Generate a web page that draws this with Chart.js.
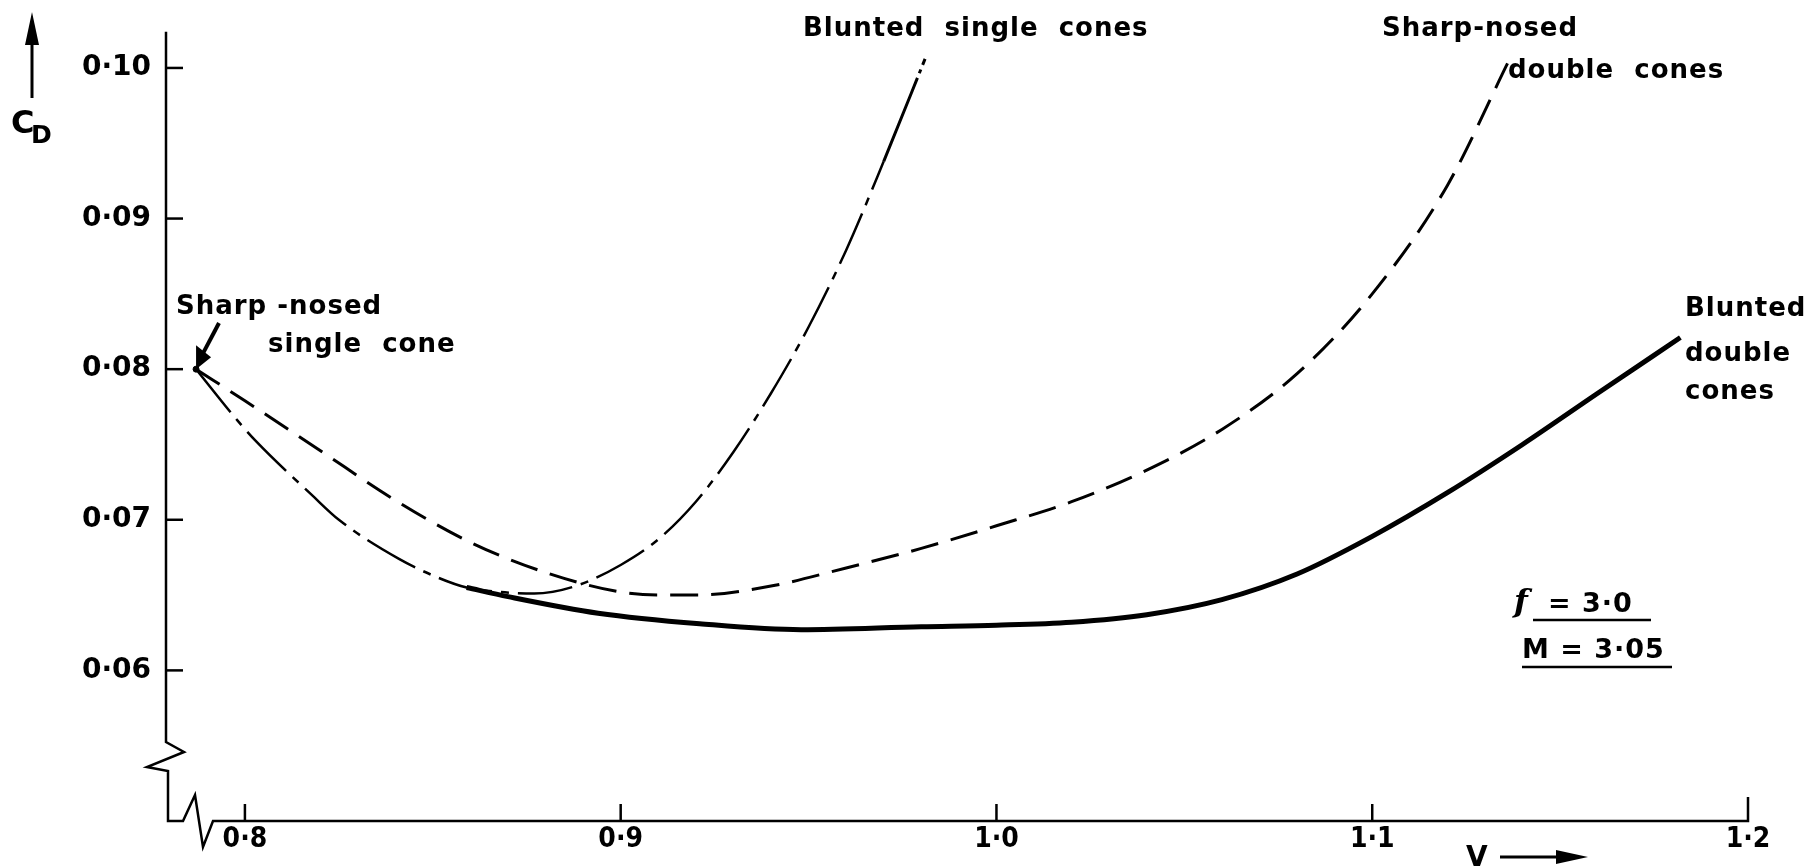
<!DOCTYPE html>
<html><head><meta charset="utf-8">
<script src="https://cdn.jsdelivr.net/npm/chart.js@4/dist/chart.umd.min.js"></script>
<style>html,body{margin:0;padding:0;background:#fff}#wrap{width:1811px;height:868px;position:relative}</style>
</head><body><div id="wrap"><canvas id="c" width="1811" height="868"></canvas></div>
<script>
// ---- data ----
const xTicks = [0.8, 0.9, 1.0, 1.1, 1.2];
const yTicks = [0.06, 0.07, 0.08, 0.09, 0.10];
const xMin = 0.779, xMax = 1.2;
const yMin = 0.05, yMax = 0.1024;

const sharpSingleV  = [0.787];
const sharpSingleCd = [0.0800];

const sharpDoubleV  = [0.787, 0.80, 0.82, 0.84, 0.86, 0.88, 0.90, 0.91, 0.92, 0.94, 0.96, 0.98, 1.00, 1.02, 1.04, 1.06, 1.08, 1.10, 1.12, 1.136];
const sharpDoubleCd = [0.0800, 0.0779, 0.0746, 0.0713, 0.0685, 0.0665, 0.0652, 0.0650, 0.0650, 0.0656, 0.0668, 0.0681, 0.0696, 0.0712, 0.0733, 0.0760, 0.0797, 0.0850, 0.0922, 0.1003];

const bluntSingleV  = [0.787, 0.798, 0.803, 0.818, 0.825, 0.841, 0.851, 0.859, 0.868, 0.877, 0.888, 0.900, 0.910, 0.920, 0.930, 0.940, 0.950, 0.960, 0.970, 0.981];
const bluntSingleCd = [0.0800, 0.0766, 0.0752, 0.0716, 0.0700, 0.0674, 0.0662, 0.0655, 0.0652, 0.0651, 0.0656, 0.0670, 0.0687, 0.0712, 0.0745, 0.0784, 0.0828, 0.0879, 0.0938, 0.1006];

const bluntDoubleV  = [0.859, 0.870, 0.894, 0.921, 0.948, 0.980, 1.00, 1.02, 1.04, 1.06, 1.08, 1.10, 1.12, 1.14, 1.16, 1.182];
const bluntDoubleCd = [0.0655, 0.0649, 0.0638, 0.0631, 0.0627, 0.0629, 0.0630, 0.0632, 0.0637, 0.0647, 0.0664, 0.0689, 0.0718, 0.0750, 0.0784, 0.0821];

const toPts = (xs, ys) => xs.map((x, i) => ({x: x, y: ys[i]}));
const fmt = (v, d) => v.toFixed(d).replace('.', '\u00B7');

const FONT = '"DejaVu Sans", "Open Sans", sans-serif';

const decor = {
  id: 'decor',
  afterDraw(chart) {
    const ctx = chart.ctx, xs = chart.scales.x, ys = chart.scales.y;
    const L = chart.chartArea.left, R = chart.chartArea.right, T = chart.chartArea.top, B = chart.chartArea.bottom;
    ctx.save();
    ctx.strokeStyle = '#000'; ctx.fillStyle = '#000';
    ctx.lineWidth = 2.5; ctx.lineJoin = 'miter'; ctx.lineCap = 'butt';
    // y axis with break
    ctx.beginPath();
    ctx.moveTo(L, T); ctx.lineTo(L, B - 79); ctx.lineTo(L + 18, B - 69); ctx.lineTo(L - 19, B - 54);
    ctx.lineTo(L + 2, B - 50); ctx.lineTo(L + 2, B);
    // x axis with break
    ctx.lineTo(L + 17, B); ctx.lineTo(L + 29, B - 26); ctx.lineTo(L + 37, B + 26); ctx.lineTo(L + 47, B);
    ctx.lineTo(R, B); ctx.lineTo(R, B - 24);
    ctx.stroke();
    // inward ticks
    yTicks.forEach(v => { const y = ys.getPixelForValue(v); ctx.beginPath(); ctx.moveTo(L, y); ctx.lineTo(L + 17, y); ctx.stroke(); });
    xTicks.slice(0, -1).forEach(v => { const x = xs.getPixelForValue(v); ctx.beginPath(); ctx.moveTo(x, B); ctx.lineTo(x, B - 17); ctx.stroke(); });

    // texts
    ctx.textBaseline = 'alphabetic'; ctx.textAlign = 'left';
    ctx.font = 'bold 26px ' + FONT;
    try { ctx.letterSpacing = '1px'; } catch (e) {}
    ctx.fillText('Blunted  single  cones', 803, 36);
    ctx.fillText('Sharp-nosed', 1382, 36);
    ctx.fillText('double  cones', 1508, 78);
    ctx.fillText('Blunted', 1685, 316);
    ctx.fillText('double', 1685, 361);
    ctx.fillText('cones', 1685, 399);
    ctx.fillText('Sharp -nosed', 176, 314);
    ctx.fillText('single  cone', 268, 352);
    // f and M
    ctx.font = 'italic bold 32px "DejaVu Serif", serif';
    ctx.fillText('f', 1514, 612);
    ctx.font = 'bold 27px ' + FONT;
    ctx.fillText('= 3\u00B70', 1548, 612);
    ctx.fillText('M = 3\u00B705', 1522, 658);
    ctx.lineWidth = 2.5;
    ctx.beginPath(); ctx.moveTo(1533, 620); ctx.lineTo(1651, 620); ctx.stroke();
    ctx.beginPath(); ctx.moveTo(1522, 667); ctx.lineTo(1672, 667); ctx.stroke();

    // arrow to sharp-nosed single cone point
    const px = xs.getPixelForValue(sharpSingleV[0]), py = ys.getPixelForValue(sharpSingleCd[0]);
    ctx.lineWidth = 4;
    ctx.beginPath(); ctx.moveTo(219, 323); ctx.lineTo(px + 6, py - 14); ctx.stroke();
    ctx.beginPath(); ctx.moveTo(px, py); ctx.lineTo(px + 0, py - 24); ctx.lineTo(px + 15, py - 12); ctx.closePath(); ctx.fill();

    // CD axis label
    ctx.lineWidth = 3;
    ctx.beginPath(); ctx.moveTo(32, 98); ctx.lineTo(32, 35); ctx.stroke();
    ctx.beginPath(); ctx.moveTo(32, 12); ctx.lineTo(25, 45); ctx.lineTo(39, 45); ctx.closePath(); ctx.fill();
    ctx.font = 'bold 32px ' + FONT;
    ctx.fillText('C', 11, 133);
    ctx.font = 'bold 25px ' + FONT;
    ctx.fillText('D', 31, 143);

    // V axis label
    ctx.font = 'bold 28px ' + FONT;
    ctx.fillText('V', 1466, 866);
    ctx.lineWidth = 3;
    ctx.beginPath(); ctx.moveTo(1500, 857); ctx.lineTo(1560, 857); ctx.stroke();
    ctx.beginPath(); ctx.moveTo(1588, 857); ctx.lineTo(1556, 850); ctx.lineTo(1556, 864); ctx.closePath(); ctx.fill();
    ctx.restore();
  }
};

const common = {showLine: true, pointRadius: 0, borderColor: '#000', backgroundColor: '#000', cubicInterpolationMode: 'monotone', fill: false};

new Chart(document.getElementById('c'), {
  type: 'scatter',
  data: {
    datasets: [
      Object.assign({}, common, {label: 'Blunted double cones', data: toPts(bluntDoubleV, bluntDoubleCd), borderWidth: 5}),
      Object.assign({}, common, {label: 'Sharp-nosed double cones', data: toPts(sharpDoubleV, sharpDoubleCd), borderWidth: 3, borderDash: [28, 13]}),
      Object.assign({}, common, {label: 'Blunted single cones', data: toPts(bluntSingleV, bluntSingleCd), borderWidth: 2.5, borderDash: [55, 9, 8, 9],
        segment: {borderDash: c => (c.p0.parsed.y >= 0.088 ? [90, 5, 4, 5] : undefined), borderWidth: c => (c.p0.parsed.y >= 0.088 ? 3 : undefined)}}),
      Object.assign({}, common, {label: 'Sharp-nosed single cone', data: toPts(sharpSingleV, sharpSingleCd), showLine: false, pointRadius: 3})
    ]
  },
  options: {
    responsive: false, animation: false, devicePixelRatio: 1,
    layout: {padding: {top: 25, right: 63, left: 0, bottom: 0}},
    plugins: {legend: {display: false}, tooltip: {enabled: false}},
    scales: {
      x: {
        type: 'linear', min: xMin, max: xMax,
        afterBuildTicks: s => { s.ticks = xTicks.map(v => ({value: v})); },
        afterFit: s => { s.height = 47; },
        grid: {display: false, drawTicks: false}, border: {display: false},
        ticks: {padding: 2, color: '#000', autoSkip: false, maxRotation: 0,
                font: {family: '"DejaVu Sans Condensed", "DejaVu Sans", sans-serif', size: 28, weight: 'bold'},
                callback: v => fmt(v, 1)}
      },
      y: {
        type: 'linear', min: yMin, max: yMax,
        afterBuildTicks: s => { s.ticks = yTicks.map(v => ({value: v})); },
        afterFit: s => { s.width = 166; },
        grid: {display: false, drawTicks: false}, border: {display: false},
        ticks: {padding: 15, color: '#000', autoSkip: false,
                font: {family: FONT, size: 28, weight: 'bold'},
                callback: v => fmt(v, 2)}
      }
    }
  },
  plugins: [decor]
});
</script>
</body></html>
